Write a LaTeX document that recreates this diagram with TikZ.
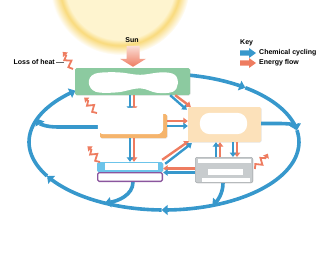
\documentclass[tikz,border=0pt]{standalone}
\usepackage{fontspec}
\setmainfont{Liberation Sans}
\usetikzlibrary{arrows.meta,calc,shadows}
\definecolor{chemblue}{HTML}{3798CC}
\definecolor{nrgorange}{HTML}{EE7C60}
\definecolor{prodgreen}{HTML}{8CCAA0}
\definecolor{primorange}{HTML}{F5B46C}
\definecolor{secbeige}{HTML}{FCE1BA}
\definecolor{detrblue}{HTML}{6CC4EA}
\definecolor{soilpurple}{HTML}{8B559E}
\definecolor{microgray}{HTML}{C8CCCE}
\definecolor{microedge}{HTML}{A8ADB0}
\definecolor{suncore}{HTML}{FEF4CF}
\definecolor{sunring}{HTML}{F9DA7C}
\pgfdeclareradialshading{sunglow}{\pgfpoint{0bp}{0bp}}{color(0bp)=(suncore); color(19.5bp)=(suncore); color(21.5bp)=(sunring); color(25bp)=(white); color(50bp)=(white)}
\tikzset{
  bx/.style={rounded corners=1.5pt,inner sep=0pt,
    drop shadow={opacity=0.22,shadow xshift=0.6pt,shadow yshift=-0.6pt}},
  prodbox/.style={bx,fill=prodgreen,minimum width=115pt,minimum height=27pt},
  primbox/.style={bx,fill=primorange,minimum width=67pt,minimum height=24pt},
  secbox/.style={bx,fill=secbeige,minimum width=73pt,minimum height=35pt},
  detrbox/.style={bx,fill=detrblue,minimum width=66pt,minimum height=10pt},
  soilbox/.style={bx,fill=white,draw=soilpurple,line width=1.3pt,
    minimum width=64.7pt,minimum height=8.7pt},
  microbox/.style={bx,fill=microgray,draw=microedge,line width=0.6pt,
    rounded corners=2pt,minimum width=57.4pt,minimum height=25.4pt},
  chem/.style={draw=chemblue,line width=2.4pt,-{Triangle[length=4.5pt,width=6.5pt]}},
  nrg/.style={draw=nrgorange,line width=2.4pt,-{Triangle[length=4.5pt,width=6.5pt]}},
  cyc/.style={draw=chemblue,line width=3.6pt,-{Triangle[length=6pt,width=10pt]}},
  lbl/.style={font=\fontsize{7}{8}\selectfont\bfseries,inner sep=1pt},
  heatz/.style={draw=nrgorange,line width=1.8pt,line join=miter,
    -{Triangle[length=4pt,width=6.5pt]}},
  heat/.pic={\draw[heatz] (0,0) -- (4,-3) -- (8,3) -- (12,-3) -- (15,1) -- (20,0);},
  swatch/.pic={\fill (0,-2.6) -- (9,-2.6) -- (9,-5) -- (16,0) -- (9,5) -- (9,2.6) -- (0,2.6) -- cycle;},
}
\newcommand\cycarc[2]{\draw[cyc] plot[domain=#1:#2,samples=30,smooth]
  ({164+135*cos(\x)},{142+68*sin(\x)});}

\begin{document}
\begin{tikzpicture}[x=1pt,y=-1pt]
  \useasboundingbox (0,0) rectangle (319,260);
  % sun
  \shade[shading=sunglow] (120,-15) circle (70);
  \node[lbl] (sunlbl) at (132,40) {Sun};

  % chemical cycling loop
  \cycarc{270}{307}
  \cycarc{307}{350}
  \cycarc{350}{451}
  \cycarc{91}{150}
  \cycarc{150}{229}
  \coordinate (cycR) at ({164+135*cos(350)},{142+68*sin(350)});
  \coordinate (cycL) at ({164+135*cos(200)},{142+68*sin(200)});
  \coordinate (cycBL) at ({164+135*cos(116)},{142+68*sin(116)});
  \coordinate (cycBR) at ({164+135*cos(69)},{142+68*sin(69)});

  \node[prodbox] (prod) at (132.5,81.5) {};
  \node[primbox] (primc) at (133.5,126) {};
  \node[secbox] (secc) at (224.5,124.5) {};

  \draw[cyc] ($(secc.east)+(0,-1)$) -- (279,123.5) .. controls (290,123.5) and (296,125) .. (cycR);
  \draw[cyc] ($(primc.west)+(0,1)$) -- (58,127) .. controls (46,127) and (40,124) .. (cycL);
  \draw[cyc] (133,182) .. controls (133,195) and (118,201) .. (cycBL);
  \draw[cyc] (223,183) .. controls (223,194) and (217,201) .. (cycBR);

  \node[detrbox] (detr) at (130,167) {};
  \node[soilbox] (soil) at (130,177) {};
  \node[microbox] (micro) at (224,170) {};

  % sunlight into producers
  \begin{scope}[shift={(prod.north)}]
    \shade[top color=nrgorange!25,middle color=nrgorange,bottom color=nrgorange]
      (-6,-22) -- (7,-22) -- (7,-9) -- (13.5,-9) -- (0.5,-1) -- (-12.5,-9) -- (-6,-9) -- cycle;
  \end{scope}

  % flows between levels
  \draw[nrg] ($(prod.south)+(1.5,0)$) -- ($(primc.north)+(0.5,-3)$);
  \draw[chem] ($(prod.south)+(-2.5,0)$) -- ($(primc.north)+(-3.5,-3)$);
  \draw[nrg] ($(prod.south east)+(-15,0)$) -- ($(secc.north west)+(3,0)$);
  \draw[chem] ($(prod.south east)+(-20,0)$) -- ($(secc.north west)+(-1,3)$);
  \draw[nrg] ($(primc.east)+(0,-5)$) -- ($(secc.west)+(0,-3.5)$);
  \draw[chem] (primc.east) -- ($(secc.west)+(0,1.5)$);
  \draw[nrg] ($(primc.south)+(0.5,0)$) -- ($(detr.north)+(4,0)$);
  \draw[chem] ($(primc.south)+(-3.5,0)$) -- (detr.north);
  \draw[nrg] ($(detr.north east)+(-1,-2)$) -- ($(secc.south west)+(1,-1)$);
  \draw[chem] ($(detr.north east)+(2,2)$) -- ($(secc.south west)+(4,1)$);
  \draw[nrg] ($(micro.west)+(0,-1.5)$) -- ($(detr.east)+(0,1.5)$);
  \draw[chem] ($(micro.west)+(0,2.5)$) -- ($(detr.east)+(0,5.5)$);
  \draw[nrg] ($(micro.north)+(-4,0)$) -- ($(secc.south)+(-4.5,0)$);
  \draw[chem] ($(micro.north)+(-8,0)$) -- ($(secc.south)+(-8.5,0)$);
  \draw[nrg] ($(secc.south)+(12.5,0)$) -- ($(micro.north)+(13,0)$);
  \draw[chem] ($(secc.south)+(8.5,0)$) -- ($(micro.north)+(9,0)$);

  % blanked label areas
  \begin{scope}[shift={(prod.north west)}]
    \fill[white] plot[smooth cycle,tension=0.6] coordinates {(14,15) (20,6) (43,4.5)
      (65,7) (87,4.5) (100,7) (103,16) (98,24) (82,25) (65,20.5) (43,24.5) (21,24)};
  \end{scope}
  \fill[white,rounded corners=6pt] ($(primc.north west)+(-2,-6)$) rectangle ($(primc.south east)+(-4,-4)$);
  \fill[white,rounded corners=10pt] ($(secc.north west)+(12,6)$) rectangle ($(secc.south east)+(-14,-8)$);
  \fill[white] ($(detr.north west)+(8,1)$) rectangle ($(detr.south east)+(-5,-2.5)$);
  \fill[white] ($(micro.north west)+(3,2)$) rectangle ($(micro.north east)+(-2,6)$);
  \fill[white] ($(micro.north west)+(13,12)$) rectangle ($(micro.north east)+(-10,18)$);
  \fill[white] ($(micro.north west)+(7,21)$) rectangle ($(micro.north east)+(-3,25)$);

  % heat losses
  \pic[rotate=121] at (73,69) {heat};
  \pic[rotate=130] at (97,113) {heat};
  \pic[rotate=129] at (100,162) {heat};
  \pic[rotate=50] at (255,169) {heat};
  \node[lbl,anchor=east] (heatlbl) at (56,62) {Loss of heat};
  \draw[gray!80!black,line width=0.5pt] (heatlbl.east) -- ++(8,0);

  % key
  \node[lbl,anchor=west] (keyhd) at (239,43) {Key};
  \node[lbl,anchor=west] (kchem) at (258,53) {Chemical cycling};
  \node[lbl,anchor=west] (kenergy) at (258,63) {Energy flow};
  \pic[fill=chemblue] at (240,53) {swatch};
  \pic[fill=nrgorange] at (240,63) {swatch};
\end{tikzpicture}
\end{document}
